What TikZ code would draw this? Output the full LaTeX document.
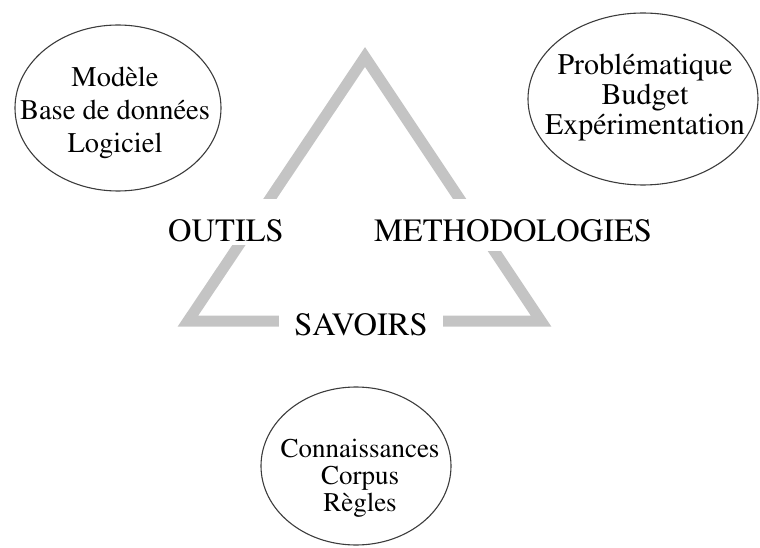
\documentclass[tikz,border=0pt]{standalone}
\usepackage[T1]{fontenc}
\usepackage{mathptmx}
\usepackage{tikz}
\definecolor{sidegray}{RGB}{196,196,196}
\definecolor{rimgray}{RGB}{60,60,60}

\begin{document}
\begin{tikzpicture}[x=1pt, y=-1pt,
	pole/.style={fill=white, inner xsep=13pt, inner ysep=0pt, text height=42pt, text depth=10pt, anchor=base, font=\fontsize{32.5}{34}\selectfont},
	notes/.style={align=center, inner sep=0pt}]
	\useasboundingbox (0,0) rectangle (760,548);
	\coordinate (top) at (365,57);
	\coordinate (bl) at (188,321);
	\coordinate (br) at (541,321);
	\draw [line width=11pt, sidegray] (top) -- (br) -- (bl) -- cycle;

	\node[pole, text depth=4pt] (outils) at (226,241) {OUTILS};
	\node[pole] (methodo) at (513,241) {METHODOLOGIES};
	\node[pole, inner xsep=15pt] (savoirs) at (361,335) {SAVOIRS};

	\node[notes, font=\fontsize{28.5}{33}\selectfont] (modele) at (115,113) {Mod\`ele\\Base de donn\'ees\\Logiciel};
	\draw [line width=1.1pt, rimgray] ([xshift=3pt, yshift=5pt] modele.center) ellipse [x radius=103pt, y radius=83pt];

	\node[notes, font=\fontsize{30}{30}\selectfont] (probleme) at (645,98) {Probl\'ematique\\Budget\\Exp\'erimentation};
	\draw [line width=1.1pt, rimgray] ([xshift=-2pt, yshift=-1pt] probleme.center) ellipse [x radius=115pt, y radius=86pt];

	\node[notes, font=\fontsize{27}{27}\selectfont] (connaissances) at (360,478) {Connaissances\\Corpus\\R\`egles};
	\draw [line width=1.1pt, rimgray] ([xshift=-4pt, yshift=12pt] connaissances.center) ellipse [x radius=95pt, y radius=79pt];
\end{tikzpicture}
\end{document}
